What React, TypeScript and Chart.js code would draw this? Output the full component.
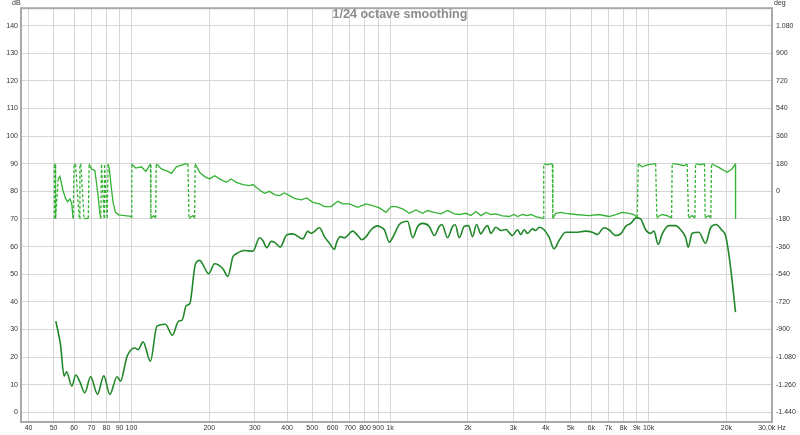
import React, { useEffect, useRef } from 'react';
import { Chart, registerables } from 'chart.js';

Chart.register(...registerables);

const chartTitle = '1/24 octave smoothing';
const leftUnit = 'dB';
const rightUnit = 'deg';

const magFreq = [51.0, 53.2, 54.9, 56.1, 58.8, 60.9, 63.2, 66.0, 69.5, 73.9, 78.2, 82.5, 88.0, 90.7, 96.2, 103.0, 106.1, 110.9, 118.4, 125.5, 135.3, 144.0, 152.3, 156.8, 163.1, 168.0, 176.6, 183.5, 198.9, 209.7, 225.8, 236.0, 246.8, 254.4, 273.8, 294.8, 312.9, 322.2, 333.9, 347.2, 357.5, 376.1, 398.9, 420.7, 459.8, 480.8, 495.5, 533.3, 557.6, 583.0, 609.5, 621.9, 642.7, 666.1, 717.3, 749.9, 777.0, 808.0, 845.0, 895.9, 909.7, 950.6, 993.8, 1023, 1086, 1169, 1223, 1279, 1336, 1418, 1483, 1550, 1588, 1669, 1745, 1787, 1852, 1936, 2012, 2084, 2160, 2246, 2312, 2382, 2455, 2566, 2683, 2805, 2974, 3110, 3205, 3300, 3399, 3553, 3662, 3772, 3944, 4122, 4309, 4505, 4782, 5226, 5712, 6056, 6331, 6721, 7027, 7458, 7798, 8153, 8522, 8956, 9313, 9736, 10180, 10483, 10891, 11286, 11977, 12717, 13294, 13899, 14223, 14737, 15639, 16601, 17356, 18239, 19243, 19832, 20420, 21029, 21673];
const magDb = [33.0, 24.3, 13.1, 14.7, 9.5, 13.5, 11.0, 7.1, 12.9, 6.6, 13.2, 6.5, 12.9, 11.3, 20.3, 23.3, 22.7, 25.5, 18.5, 31.2, 31.9, 27.9, 33.1, 33.3, 38.7, 39.3, 53.5, 55.0, 50.2, 53.8, 52.0, 49.2, 56.3, 57.4, 58.6, 58.3, 63.2, 62.2, 59.6, 61.9, 61.6, 59.8, 64.3, 64.6, 62.8, 65.5, 64.8, 66.8, 63.6, 61.2, 59.0, 61.6, 63.6, 63.2, 65.6, 64.0, 62.5, 63.6, 66.1, 67.5, 67.3, 66.1, 61.6, 63.2, 68.0, 69.2, 63.2, 67.3, 68.4, 67.3, 64.0, 67.3, 68.0, 63.2, 67.3, 67.9, 63.2, 67.3, 67.6, 63.6, 68.0, 64.6, 66.4, 67.6, 64.8, 67.0, 65.8, 66.2, 64.0, 66.1, 64.4, 66.1, 64.8, 66.4, 65.8, 67.0, 66.1, 63.4, 59.2, 62.2, 65.2, 65.2, 65.6, 65.2, 64.4, 66.8, 66.1, 64.0, 64.6, 67.3, 68.4, 70.4, 70.0, 66.1, 64.8, 65.6, 60.8, 64.6, 67.6, 67.6, 66.1, 63.4, 59.8, 64.8, 65.2, 61.2, 66.8, 68.0, 65.8, 64.0, 57.4, 47.8, 36.3];

const phaseFreq = [50.3, 50.35, 50.8, 50.9, 52.1, 52.9, 54.4, 55.6, 56.6, 57.8, 58.7, 59.5, 60.0, 60.8, 62.8, 63.2, 63.7, 65.6, 68.1, 68.6, 70.1, 72.2, 73.2, 74.3, 75.4, 76.1, 76.6, 78.4, 78.7, 80.6, 81.2, 82.1, 83.7, 84.9, 86.7, 89.3, 94.2, 99.4, 100, 100.3, 103.9, 109.3, 113.6, 116.6, 118.4, 118.9, 119.5, 121.9, 124.1, 124.7, 130.6, 138.4, 142.7, 149.2, 157.3, 163.1, 165.4, 166.9, 169.0, 172.9, 175.5, 176.3, 183.5, 191.9, 200.6, 209.7, 219.3, 232.7, 243.3, 254.4, 269.8, 286.2, 294.8, 312.9, 327.1, 342.0, 357.5, 373.8, 390.8, 408.5, 427.1, 453.3, 476.4, 502.6, 533.3, 557.6, 591.8, 627.8, 656.2, 696.6, 749.9, 808.0, 856.8, 909.4, 965.2, 1009, 1055, 1119, 1187, 1260, 1336, 1397, 1483, 1574, 1669, 1772, 1852, 1965, 2054, 2148, 2246, 2348, 2455, 2566, 2722, 2888, 3020, 3110, 3251, 3399, 3503, 3662, 3828, 3918, 3930, 4060, 4184, 4244, 4263, 4376, 4574, 4781, 5225, 5881, 6428, 7026, 7459, 7910, 8395, 8776, 9036, 9116, 9447, 9876, 10325, 10641, 10765, 10890, 11286, 11798, 12269, 12334, 12895, 13687, 14093, 14270, 14734, 15094, 15188, 15878, 16451, 16540, 16687, 17093, 17400, 17510, 18680, 20117, 21029, 21673, 21690];
const phaseDeg = [-175, 178, 176, -178, 82, 98, 4, -46, -67, -50, -76, -176, 178, 176, -178, 178, 176, -178, -176, 178, 146, 135, 59, -28, -137, -176, 178, -178, 178, -178, 178, 146, 16, -72, -137, -153, -158, -163, -170, 178, 152, 160, 130, 160, 178, -176, -173, -158, -173, 180, 146, 130, 117, 160, 173, 180, 178, -178, -169, -158, -173, 180, 124, 96, 81, 102, 81, 59, 81, 59, 44, 37, 44, 9, -13, 0, -21, -28, -10, -28, -46, -56, -43, -72, -82, -99, -99, -65, -82, -82, -104, -82, -93, -108, -137, -99, -99, -114, -143, -121, -143, -125, -137, -147, -125, -147, -151, -143, -158, -132, -158, -137, -151, -147, -160, -164, -151, -164, -151, -158, -151, -164, -173, -176, 180, 173, 180, 178, -176, -143, -137, -143, -151, -158, -151, -164, -151, -137, -143, -151, -169, 180, 160, 173, 178, 180, -176, -164, -151, -158, -173, 180, 178, 167, 178, -176, -158, -173, 180, 173, 180, -176, -169, -158, -173, 180, 156, 124, 146, 180, -180];

const freqTicks = [40, 50, 60, 70, 80, 90, 100, 200, 300, 400, 500, 600, 700, 800, 900, 1000, 2000, 3000, 4000, 5000, 6000, 7000, 8000, 9000, 10000, 20000, 30000];
const dbTicks = [0, 10, 20, 30, 40, 50, 60, 70, 80, 90, 100, 110, 120, 130, 140];
const degTicks = [-1440, -1260, -1080, -900, -720, -540, -360, -180, 0, 180, 360, 540, 720, 900, 1080];

const FONT = 'Liberation Sans, Arial, sans-serif';
const TICK_COLOR = '#333333';
const GRID_COLOR = '#d6d6d6';

function freqLabel(v: number): string {
  if (v >= 30000) return '30,0k Hz';
  if (v >= 1000) return `${v / 1000}k`;
  return String(v);
}

function degLabel(v: number): string {
  const a = Math.abs(v);
  let s = String(a);
  if (a >= 1000) s = s.slice(0, s.length - 3) + '.' + s.slice(s.length - 3);
  return (v < 0 ? '-' : '') + s;
}

const framePlugin = {
  id: 'frameAndTitle',
  afterDraw(chart: any) {
    const { ctx, chartArea } = chart;
    const { left, top, right, bottom } = chartArea;
    ctx.save();
    ctx.strokeStyle = '#a9a9a9';
    ctx.lineWidth = 2;
    ctx.strokeRect(left, top, right - left, bottom - top);
    ctx.fillStyle = '#8c8c8c';
    ctx.font = `bold 12.5px ${FONT}`;
    ctx.textAlign = 'center';
    ctx.textBaseline = 'middle';
    ctx.fillText(chartTitle, 400, 15);
    ctx.fillStyle = TICK_COLOR;
    ctx.font = `7px ${FONT}`;
    ctx.textAlign = 'left';
    ctx.fillText(leftUnit, 12, 3.5);
    ctx.fillText(rightUnit, 774, 3.5);
    ctx.restore();
  },
};

export default function App() {
  const ref = useRef<HTMLCanvasElement | null>(null);

  useEffect(() => {
    const canvas = ref.current;
    if (!canvas) return;
    const magData = magFreq.map((f, i) => ({ x: f, y: magDb[i] }));
    const phaseData = phaseFreq.map((f, i) => ({ x: f, y: phaseDeg[i] }));
    const tickFont = { family: FONT, size: 7 };

    const chart = new Chart(canvas, {
      type: 'line',
      data: {
        datasets: [
          {
            label: 'phase',
            data: phaseData,
            yAxisID: 'y2',
            borderColor: '#34b234',
            borderWidth: 1.3,
            pointRadius: 0,
            tension: 0,
            segment: {
              borderDash: (c: any) => (Math.abs(c.p0.parsed.y - c.p1.parsed.y) > 250 ? [3, 2] : undefined),
            },
          },
          {
            label: 'magnitude',
            data: magData,
            yAxisID: 'y',
            borderColor: '#21882a',
            borderWidth: 1.6,
            pointRadius: 0,
            cubicInterpolationMode: 'monotone',
          },
        ],
      },
      options: {
        animation: false,
        responsive: false,
        devicePixelRatio: 1,
        layout: { padding: { top: 7, left: 0, right: 0, bottom: 0 } },
        plugins: {
          legend: { display: false },
          tooltip: { enabled: false },
          title: { display: false },
        },
        scales: {
          x: {
            type: 'logarithmic',
            min: 37.4,
            max: 30000,
            afterBuildTicks: (s: any) => {
              s.ticks = freqTicks.map((v) => ({ value: v }));
            },
            afterFit: (s: any) => {
              s.height = 13;
            },
            ticks: {
              autoSkip: false,
              maxRotation: 0,
              minRotation: 0,
              padding: 2,
              color: TICK_COLOR,
              font: tickFont,
              callback: (v: any) => freqLabel(Number(v)),
            },
            grid: { color: GRID_COLOR, drawTicks: false, lineWidth: 1 },
            border: { display: false },
          },
          y: {
            type: 'linear',
            position: 'left',
            min: -3.5,
            max: 146.3,
            afterBuildTicks: (s: any) => {
              s.ticks = dbTicks.map((v) => ({ value: v }));
            },
            afterFit: (s: any) => {
              s.width = 21;
            },
            ticks: {
              padding: 3,
              color: TICK_COLOR,
              font: tickFont,
              callback: (v: any) => String(v),
            },
            grid: { color: GRID_COLOR, drawTicks: false, lineWidth: 1 },
            border: { display: false },
          },
          y2: {
            type: 'linear',
            position: 'right',
            min: -1503,
            max: 1193.4,
            afterBuildTicks: (s: any) => {
              s.ticks = degTicks.map((v) => ({ value: v }));
            },
            afterFit: (s: any) => {
              s.width = 28;
            },
            ticks: {
              padding: 4,
              color: TICK_COLOR,
              font: tickFont,
              callback: (v: any) => degLabel(Number(v)),
            },
            grid: { display: false, drawTicks: false },
            border: { display: false },
          },
        },
      },
      plugins: [framePlugin],
    } as any);

    return () => chart.destroy();
  }, []);

  return (
    <div style={{ position: 'fixed', left: 0, top: 0, width: 800, height: 435, background: '#ffffff' }}>
      <canvas ref={ref} width={800} height={435} style={{ display: 'block', width: 800, height: 435 }} />
    </div>
  );
}
